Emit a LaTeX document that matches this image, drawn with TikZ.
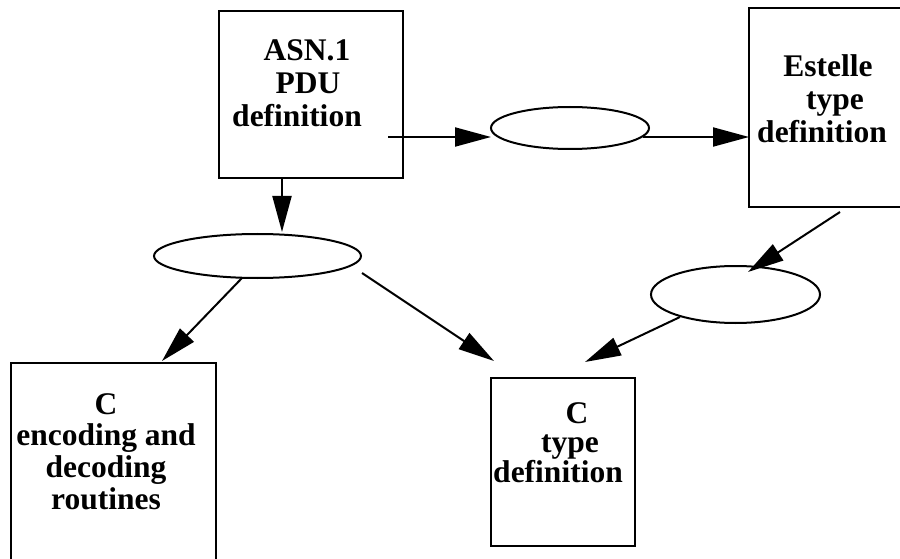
\documentclass[tikz,border=0pt]{standalone}
\usepackage{fontspec}
\setmainfont{Liberation Serif}
\usetikzlibrary{arrows.meta,shapes.geometric}
\begin{document}
\begin{tikzpicture}[x=1pt,y=1pt,
  boxnode/.style={draw,line width=2.2pt,rectangle,inner sep=0pt,outer sep=0pt},
  ovalnode/.style={draw,line width=2pt,ellipse,inner sep=0pt,outer sep=0pt},
  lbl/.style={font=\bfseries\fontsize{31.5}{33}\selectfont,align=center,inner sep=0pt,anchor=north},
  flow/.style={line width=2pt,-{Triangle[length=36pt,width=19pt]}}]
\useasboundingbox (0,0) rectangle (900,558);
\clip (0,0) rectangle (900,558);
% boxes
\node[boxnode,minimum width=184pt,minimum height=167pt] (A) at (311,463.5) {};
\node[boxnode,minimum width=181pt,minimum height=199pt] (B) at (839.5,450.5) {};
\node[boxnode,minimum width=205pt,minimum height=217pt] (C) at (113.5,86.5) {};
\node[boxnode,minimum width=144pt,minimum height=168pt] (D) at (563,96) {};
% ellipses
\node[ovalnode,minimum width=158pt,minimum height=42pt] (E1) at (570,430) {};
\node[ovalnode,minimum width=207pt,minimum height=44pt] (E2) at (257.5,302) {};
\node[ovalnode,minimum width=169pt,minimum height=57pt] (E3) at (735.5,263.5) {};
% labels
\node[lbl] (tA) at (297,519) {\hspace*{20pt}ASN.1\\\hspace*{22pt}PDU\\definition};
\node[lbl] (tB) at (822,504) {\hspace*{12pt}Estelle\\\hspace*{26pt}type\\definition};
\node[lbl,font=\bfseries\fontsize{31.5}{31.7}\selectfont] (tC) at (106,165) {C\\encoding and\\decoding\\routines};
\node[lbl,font=\bfseries\fontsize{31.5}{29.5}\selectfont] (tD) at (558,156) {\hspace*{38pt}C\\\hspace*{24pt}type\\definition};
% connectors
\draw[flow] ([shift={(-15,-42.5)}]A.east) -- ([shift={(0,-9)}]E1.west);
\draw[flow] ([shift={(-6,-9)}]E1.east) -- ([shift={(0,-29.5)}]B.west);
\draw[flow] ([shift={(-29,0)}]A.south) -- ([shift={(24.5,2)}]E2.north);
\draw[flow] ([shift={(-15.5,0)}]E2.south) -- ([shift={(48.5,2)}]C.north);
\draw[flow] ([shift={(1,-17)}]E2.east) -- ([shift={(3,17)}]D.north west);
\draw[flow] ([shift={(0.5,-5)}]B.south) -- ([shift={(12.5,-6)}]E3.north);
\draw[flow] ([shift={(-55.5,6)}]E3.south) -- ([shift={(22,16)}]D.north);
\end{tikzpicture}
\end{document}
